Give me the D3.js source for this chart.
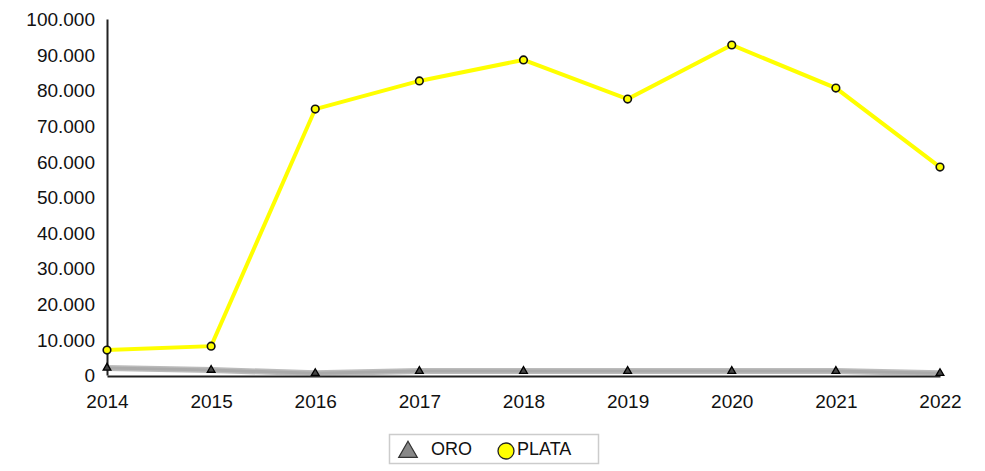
<!DOCTYPE html>
<html>
<head>
<meta charset="utf-8">
<script src="https://cdn.jsdelivr.net/npm/d3@7"></script>
<style>
  html, body { margin: 0; padding: 0; background: #fff; }
  svg text { font-family: "Liberation Sans", Arial, sans-serif; fill: #111; }
</style>
</head>
<body>
<svg id="chart" width="985" height="471"></svg>
<script>
// Annual production by metal
const years = ["2014", "2015", "2016", "2017", "2018", "2019", "2020", "2021", "2022"];
const oro   = [2000, 1400, 500, 1100, 1100, 1100, 1100, 1100, 500];
const plata = [7000, 8100, 74700, 82600, 88500, 77500, 92700, 80600, 58400];
const yTicks = [0, 10000, 20000, 30000, 40000, 50000, 60000, 70000, 80000, 90000, 100000];

const svg = d3.select("#chart");
const plotLeft = 107, plotRight = 940, plotTop = 19, plotBottom = 375;

const x = d3.scalePoint().domain(years).range([plotLeft, plotRight]);
const y = d3.scaleLinear().domain([0, 100000]).range([plotBottom, plotTop]);

const fmt = v => v === 0 ? "0" : d3.format(",")(v).replace(/,/g, ".");

// Axes
const yAxis = d3.axisLeft(y).tickValues(yTicks).tickFormat(fmt).tickSize(0).tickPadding(12);
const gy = svg.append("g").attr("transform", `translate(${plotLeft},0)`).call(yAxis);
gy.select(".domain").attr("stroke", "#222").attr("stroke-width", 2);
gy.selectAll("text").style("font-size", "19px").attr("dy", "0.35em");

const xAxis = d3.axisBottom(x).tickSize(0).tickPadding(19);
const gx = svg.append("g").attr("transform", `translate(0,${plotBottom + 1})`).call(xAxis);
gx.select(".domain").attr("stroke", "#222").attr("stroke-width", 2);
gx.selectAll("text").style("font-size", "19px");

// Series lines
const line = d3.line().x((d, i) => x(years[i])).y(d => y(d));

svg.append("path").datum(oro).attr("d", line)
  .attr("fill", "none").attr("stroke", "#777").attr("stroke-width", 6).attr("opacity", 0.5);
svg.append("path").datum(oro).attr("d", line)
  .attr("fill", "none").attr("stroke", "#aaa").attr("stroke-width", 3);

svg.append("path").datum(plata).attr("d", line)
  .attr("fill", "none").attr("stroke", "#ffff00").attr("stroke-width", 4);

// Markers
const tri = d3.symbol().type(d3.symbolTriangle).size(26);
svg.append("g").selectAll("path").data(oro).join("path")
  .attr("d", tri)
  .attr("transform", (d, i) => `translate(${x(years[i])},${y(d)})`)
  .attr("fill", "#444").attr("stroke", "#000").attr("stroke-width", 1.3);

svg.append("g").selectAll("circle").data(plata).join("circle")
  .attr("cx", (d, i) => x(years[i])).attr("cy", d => y(d)).attr("r", 3.8)
  .attr("fill", "#ffff00").attr("stroke", "#111").attr("stroke-width", 1.6);

// Legend
const lg = svg.append("g");
lg.append("rect").attr("x", 389.5).attr("y", 434.5).attr("width", 209).attr("height", 29)
  .attr("fill", "#fff").attr("stroke", "#ccc").attr("stroke-width", 1.5);
lg.append("path").attr("d", d3.symbol().type(d3.symbolTriangle).size(150))
  .attr("transform", "translate(408,452)")
  .attr("fill", "#888").attr("stroke", "#333").attr("stroke-width", 1.2);
lg.append("text").attr("x", 431).attr("y", 449).attr("dy", "0.35em").style("font-size", "18px").text("ORO");
lg.append("circle").attr("cx", 506).attr("cy", 451).attr("r", 8)
  .attr("fill", "#ffff00").attr("stroke", "#222").attr("stroke-width", 1.3);
lg.append("text").attr("x", 517).attr("y", 449).attr("dy", "0.35em").style("font-size", "18px").text("PLATA");
</script>
</body>
</html>
